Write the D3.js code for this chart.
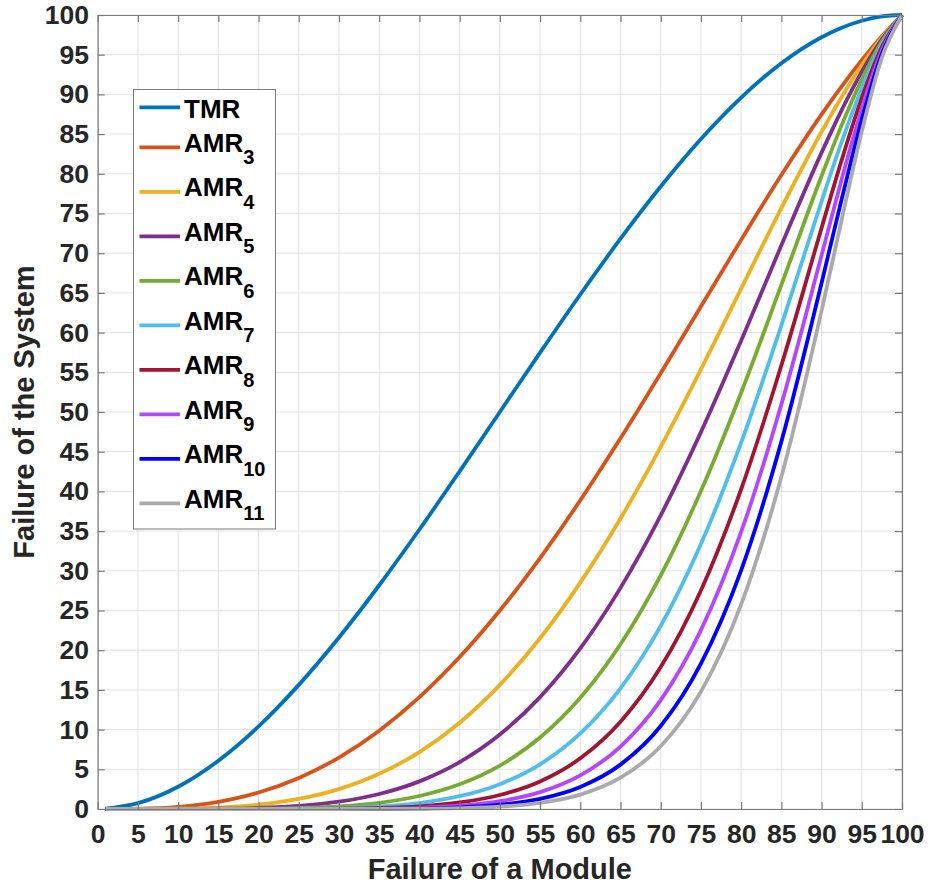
<!DOCTYPE html>
<html>
<head>
<meta charset="utf-8">
<script src="https://cdn.jsdelivr.net/npm/d3@7"></script>
<style>
  html, body { margin: 0; padding: 0; background: #ffffff; }
  svg { display: block; }
  text { font-family: "Liberation Sans", Arial, Helvetica, sans-serif; font-weight: bold; }
</style>
</head>
<body>
<svg id="chart" width="929" height="886"></svg>
<script>
// ---- data ----
const xValues = [1,5,10,15,20,25,30,35,40,45,50,55,60,65,70,75,80,85,90,92.5,95,97.5,100];
const tmr   = [0.03,0.73,2.80,6.08,10.40,15.63,21.60,28.18,35.20,42.53,50.00,57.48,64.80,71.83,78.40,84.38,89.60,93.93,97.20,98.40,99.28,99.82,100];
const amr3  = [0,0.04,0.28,0.91,2.08,3.91,6.48,9.86,14.08,19.14,25.00,31.61,38.88,46.69,54.88,63.28,71.68,79.84,87.48,91.02,94.31,97.32,100];
const amr4  = [0,0,0.04,0.18,0.54,1.27,2.51,4.43,7.17,10.87,15.63,21.50,28.51,36.59,45.62,55.37,65.54,75.69,85.29,89.68,93.67,97.15,100];
const amr5  = [0,0,0,0.03,0.13,0.39,0.92,1.89,3.48,5.90,9.38,14.09,20.22,27.85,36.98,47.46,58.98,70.99,82.67,88.03,92.85,96.92,100];
const amr6  = [0,0,0,0.01,0.03,0.12,0.33,0.78,1.64,3.11,5.47,9.00,14.00,20.74,29.41,40.05,52.43,66.00,79.72,86.13,91.89,96.65,100];
const amr7  = [0,0,0,0,0.01,0.03,0.11,0.32,0.75,1.61,3.13,5.63,9.52,15.20,23.06,33.37,46.14,60.91,76.53,84.02,90.78,96.32,100];
const amr8  = [0,0,0,0,0,0.01,0.04,0.13,0.34,0.82,1.76,3.47,6.38,10.99,17.87,27.53,40.27,55.86,73.18,81.73,89.56,95.96,100];
const amr9  = [0,0,0,0,0,0,0.01,0.05,0.15,0.41,0.98,2.12,4.23,7.87,13.72,22.53,34.90,50.96,69.74,79.32,88.23,95.55,100];
const amr10 = [0,0,0,0,0,0,0,0.02,0.07,0.20,0.54,1.28,2.78,5.59,10.45,18.30,30.06,46.27,66.25,76.81,86.82,95.10,100];
const amr11 = [0,0,0,0,0,0,0,0.01,0.03,0.10,0.29,0.77,1.81,3.94,7.91,14.78,25.77,41.84,62.76,74.23,85.32,94.62,100];

const seriesNames = ["TMR","AMR3","AMR4","AMR5","AMR6","AMR7","AMR8","AMR9","AMR10","AMR11"];
const seriesValues = [tmr, amr3, amr4, amr5, amr6, amr7, amr8, amr9, amr10, amr11];
const seriesColors = ["#0072BD","#D95319","#EDB120","#7E2F8E","#77AC30","#4DBEEE","#A2142F","#B446FF","#0000FF","#AAAAAA"];

const xTickValues = [0,5,10,15,20,25,30,35,40,45,50,55,60,65,70,75,80,85,90,95,100];
const yTickValues = [0,5,10,15,20,25,30,35,40,45,50,55,60,65,70,75,80,85,90,95,100];
const xTitle = "Failure of a Module";
const yTitle = "Failure of the System";

// ---- layout ----
const plotLeft = 97.7, plotRight = 902, plotTop = 15, plotBottom = 809;
const axisColor = "#7a7a7a";
const tickFont = 26.5, titleFont = 29;

const svg = d3.select("#chart");
svg.append("rect").attr("width", 929).attr("height", 886).attr("fill", "#fff");

const x = d3.scaleLinear().domain([0, 100]).range([plotLeft, plotRight]);
const y = d3.scaleLinear().domain([0, 100]).range([plotBottom, plotTop]);

// grid
const grid = svg.append("g");
grid.selectAll("line.gx").data(xTickValues).join("line")
  .attr("x1", d => x(d)).attr("x2", d => x(d))
  .attr("y1", plotTop).attr("y2", plotBottom)
  .attr("stroke", "#e3e3e3").attr("stroke-width", 1);
grid.selectAll("line.gy").data(yTickValues).join("line")
  .attr("y1", d => y(d)).attr("y2", d => y(d))
  .attr("x1", plotLeft).attr("x2", plotRight)
  .attr("stroke", "#e3e3e3").attr("stroke-width", 1);

// curves
const line = d3.line().x(d => x(d[0])).y(d => y(d[1])).curve(d3.curveMonotoneX);
seriesValues.forEach((vals, i) => {
  svg.append("path")
    .datum(xValues.map((xv, j) => [xv, vals[j]]))
    .attr("d", line)
    .attr("fill", "none")
    .attr("stroke", seriesColors[i])
    .attr("stroke-width", 3.8)
    .attr("stroke-linejoin", "round");
});

// axes
function styleAxis(g) {
  g.select(".domain").attr("stroke", axisColor).attr("stroke-width", 1.2);
  g.selectAll(".tick line").attr("stroke", axisColor).attr("stroke-width", 1.2);
  g.selectAll(".tick text")
    .attr("fill", "#262626")
    .style("font-size", tickFont + "px")
    .style("font-weight", "bold")
    .style("font-family", '"Liberation Sans", Arial, Helvetica, sans-serif');
}
svg.append("g").attr("transform", `translate(0,${plotBottom})`)
  .call(d3.axisBottom(x).tickValues(xTickValues).tickSizeInner(-7).tickSizeOuter(0).tickPadding(15).tickFormat(d3.format("d")))
  .call(styleAxis);
svg.append("g").attr("transform", `translate(0,${plotTop})`)
  .call(d3.axisTop(x).tickValues(xTickValues).tickSizeInner(-7).tickSizeOuter(0).tickFormat(""))
  .call(styleAxis);
svg.append("g").attr("transform", `translate(${plotLeft},0)`)
  .call(d3.axisLeft(y).tickValues(yTickValues).tickSizeInner(-7).tickSizeOuter(0).tickPadding(8.7).tickFormat(d3.format("d")))
  .call(styleAxis);
svg.append("g").attr("transform", `translate(${plotRight},0)`)
  .call(d3.axisRight(y).tickValues(yTickValues).tickSizeInner(-7).tickSizeOuter(0).tickFormat(""))
  .call(styleAxis);

// titles
svg.append("text").attr("x", (plotLeft + plotRight) / 2).attr("y", 879)
  .attr("text-anchor", "middle").attr("fill", "#262626")
  .style("font-size", titleFont + "px").text(xTitle);
svg.append("text").attr("transform", `translate(34,${(plotTop + plotBottom) / 2}) rotate(-90)`)
  .attr("text-anchor", "middle").attr("fill", "#262626")
  .style("font-size", titleFont + "px").text(yTitle);

// legend
const legend = svg.append("g");
legend.append("rect").attr("x", 133.5).attr("y", 89.5).attr("width", 142).attr("height", 439.5)
  .attr("fill", "#fff").attr("stroke", axisColor).attr("stroke-width", 1);
seriesNames.forEach((name, i) => {
  const ly = i === 0 ? 107.3 : 147.3 + (i - 1) * 44.5;
  legend.append("line").attr("x1", 139.5).attr("x2", 180).attr("y1", ly).attr("y2", ly)
    .attr("stroke", seriesColors[i]).attr("stroke-width", 3.8);
  const t = legend.append("text").attr("x", 184).attr("fill", "#000").style("font-size", "26px");
  if (i === 0) {
    t.attr("y", ly + 10.6).text(name);
  } else {
    t.attr("y", ly + 4.6);
    t.append("tspan").text(name.slice(0, 3));
    t.append("tspan").attr("dy", 12.5).style("font-size", "20px").text(name.slice(3));
  }
});
</script>
</body>
</html>
